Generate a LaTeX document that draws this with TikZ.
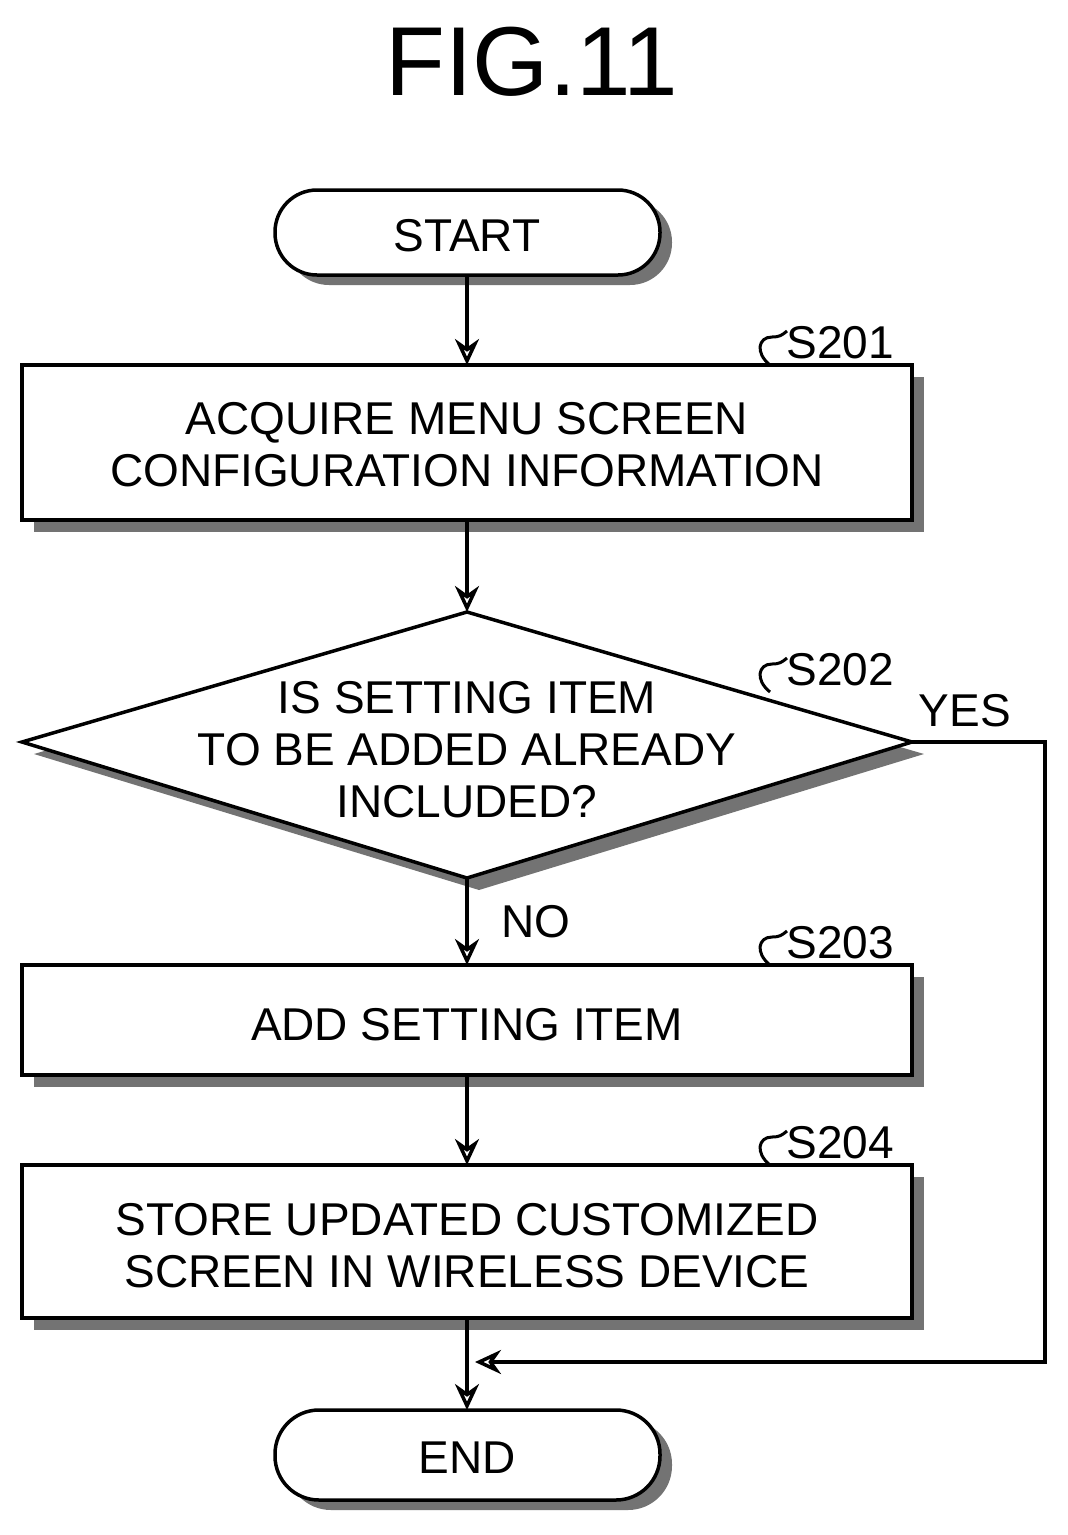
\documentclass[tikz,border=0pt]{standalone}
\usepackage{fontspec}
\setmainfont{Liberation Sans}
\usetikzlibrary{arrows.meta,shapes.geometric}
\begin{document}
\begin{tikzpicture}[x=1pt,y=-1pt,
 sh/.style={fill=black!55},
 bx/.style={draw=black,line width=3.5pt,fill=white},
 txt/.style={font=\fontsize{46}{52}\selectfont,align=center},
 arr/.style={line width=3.5pt,-{Stealth[length=26pt,width=24pt,open]}},
 ln/.style={line width=3pt}]
\useasboundingbox (0,0) rectangle (1068,1535);
\node[font=\fontsize{98}{100}\selectfont] (title) at (532,62) {FIG.11};
% START
\fill[sh,rounded corners=42pt] (287,200) rectangle (672,285);
\draw[bx,rounded corners=42pt] (275,190) rectangle (660,275);
\node[txt] (start) at (467,236) {START};
\coordinate (startb) at (467,275);
% S201
\fill[sh] (34,377) rectangle (924,532);
\draw[bx] (22,365) rectangle (912,520);
\node[txt] (s201) at (467,445) {ACQUIRE MENU SCREEN\\CONFIGURATION INFORMATION};
\coordinate (s201t) at (467,365); \coordinate (s201b) at (467,520);
% diamond
\fill[sh] (34,754) -- (479,624) -- (924,754) -- (479,890) -- cycle;
\draw[bx,line join=miter] (22,742) -- (467,612) -- (912,742) -- (467,878) -- cycle;
\node[txt] (s202) at (467,750) {IS SETTING ITEM\\TO BE ADDED ALREADY\\INCLUDED?};
\coordinate (dt) at (467,612); \coordinate (db) at (467,878); \coordinate (dr) at (912,742);
% S203
\fill[sh] (34,977) rectangle (924,1087);
\draw[bx] (22,965) rectangle (912,1075);
\node[txt] (s203) at (467,1025) {ADD SETTING ITEM};
\coordinate (s203t) at (467,965); \coordinate (s203b) at (467,1075);
% S204
\fill[sh] (34,1177) rectangle (924,1330);
\draw[bx] (22,1165) rectangle (912,1318);
\node[txt] (s204) at (467,1246) {STORE UPDATED CUSTOMIZED\\SCREEN IN WIRELESS DEVICE};
\coordinate (s204t) at (467,1165); \coordinate (s204b) at (467,1318);
% END
\fill[sh,rounded corners=44pt] (287,1420) rectangle (672,1510);
\draw[bx,rounded corners=44pt] (275,1410) rectangle (660,1500);
\node[txt] (end) at (467,1458) {END};
\coordinate (endt) at (467,1410);
% arrows
\draw[arr] (startb) -- (s201t);
\draw[arr] (s201b) -- (dt);
\draw[arr] (db) -- (s203t);
\draw[arr] (s203b) -- (s204t);
\draw[arr] (s204b) -- (endt);
\coordinate (c1) at (1045,742); \coordinate (c2) at (1045,1362); \coordinate (c3) at (475,1362);
\draw[arr] (dr) -- (c1) -- (c2) -- (c3);
\node[txt] (no) at (536,922) {NO};
\node[txt] (yes) at (965,711) {YES};
% step labels
\foreach \n/\y in {S201/365,S202/692,S203/965,S204/1165}{
 \draw[ln] (770,\y) .. controls (755,\y-12) and (758,\y-28) .. (772,\y-28) .. controls (780,\y-28) and (782,\y-30) .. (787,\y-34);
 \node[txt,anchor=west] at (783,\y-22) {\n};
}
\end{tikzpicture}
\end{document}
